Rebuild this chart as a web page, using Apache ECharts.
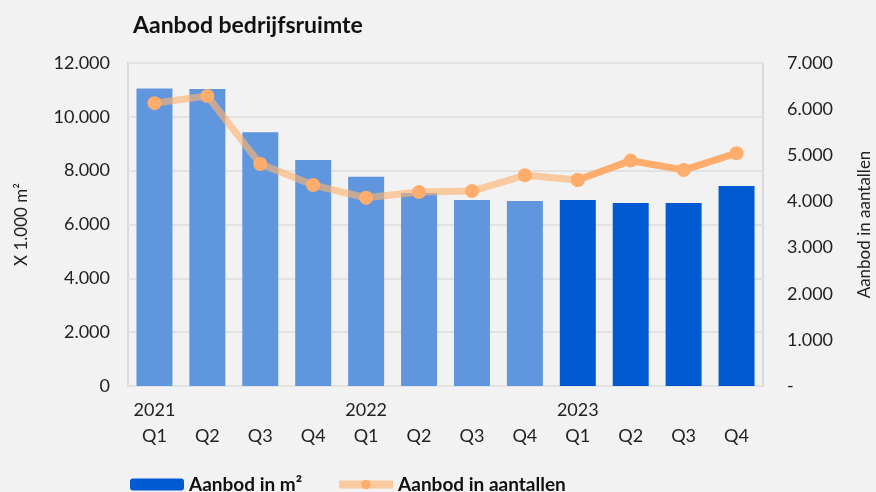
<!DOCTYPE html>
<html>
<head>
    <meta charset="UTF-8">
    <title>Aanbod bedrijfsruimte</title>
    <script src="https://cdn.jsdelivr.net/npm/echarts@6/dist/echarts.min.js"></script>
    <style>
        html, body { margin: 0; padding: 0; background: #f2f2f2; }
    </style>
</head>
<body>
<div id="chart" style="width:876px;height:492px;"></div>
<script type="text/javascript">

    // kwartalen 2021 - 2023
    var years = ['2021', '', '', '', '2022', '', '', '', '2023', '', '', ''];
    var quarters = ['Q1', 'Q2', 'Q3', 'Q4', 'Q1', 'Q2', 'Q3', 'Q4', 'Q1', 'Q2', 'Q3', 'Q4'];

    // X 1.000 m2
    var aanbodM2 = [11050, 11030, 9430, 8400, 7770, 7170, 6910, 6870, 6910, 6800, 6800, 7430];
    // aantallen
    var aanbodAantal = [6130, 6285, 4810, 4355, 4080, 4205, 4225, 4565, 4465, 4885, 4680, 5045];

    var splitAt = 8; // vanaf 2023 donker

    var categories = years.map(function (y, i) {
        return y + '\n' + quarters[i];
    });

    var lightLine = aanbodAantal.map(function (v, i) {
        return i <= splitAt ? v : '-';
    });
    var darkLine = aanbodAantal.map(function (v, i) {
        return i >= splitAt ? v : '-';
    });

    function dots(v) {
        return String(v).replace(/\B(?=(\d{3})+(?!\d))/g, '.');
    }

    var font = 'Lato';
    var myChart = echarts.init(document.getElementById('chart'));

    myChart.setOption({
        backgroundColor: '#f2f2f2',
        animation: false,
        textStyle: {fontFamily: font},
        title: {
            text: 'Aanbod bedrijfsruimte',
            left: 128,
            top: 9,
            textStyle: {fontSize: 23, fontWeight: 'bold', color: '#111', fontFamily: font}
        },
        legend: {
            data: [
                {name: 'Aanbod in m²', itemStyle: {color: '#005bd3'}},
                {
                    name: 'Aanbod in aantallen',
                    lineStyle: {width: 8, color: 'rgba(253,178,113,0.64)'},
                    itemStyle: {color: '#ffad6c'}
                }
            ],
            left: 125,
            top: 470,
            itemWidth: 54,
            itemHeight: 12,
            itemGap: 33,
            textStyle: {fontSize: 19, fontWeight: 'bold', color: '#111', fontFamily: font}
        },
        grid: {
            left: 128,
            right: 113,
            top: 63,
            bottom: 106,
            outerBoundsMode: 'none',
            containLabel: false,
            show: true,
            borderColor: '#dadada',
            borderWidth: 2
        },
        xAxis: {
            type: 'category',
            data: categories,
            axisLine: {show: false},
            axisTick: {show: false},
            axisLabel: {
                interval: 0,
                margin: 11,
                fontSize: 18,
                lineHeight: 26,
                color: '#222'
            }
        },
        yAxis: [
            {
                type: 'value',
                min: 0,
                max: 12000,
                interval: 2000,
                name: 'X 1.000 m²',
                nameLocation: 'middle',
                nameGap: 98,
                nameTextStyle: {fontSize: 17, color: '#222'},
                axisLine: {show: false},
                axisTick: {show: false},
                splitLine: {lineStyle: {color: '#e2e2e2', width: 2}},
                axisLabel: {
                    fontSize: 18,
                    color: '#222',
                    margin: 18,
                    formatter: function (v) { return dots(v); }
                }
            },
            {
                type: 'value',
                min: 0,
                max: 7000,
                interval: 1000,
                name: 'Aanbod in aantallen',
                nameLocation: 'middle',
                nameGap: 93,
                nameTextStyle: {fontSize: 17, color: '#222'},
                axisLine: {show: false},
                axisTick: {show: false},
                splitLine: {show: false},
                axisLabel: {
                    fontSize: 18,
                    color: '#222',
                    margin: 24,
                    formatter: function (v) { return v === 0 ? '-' : dots(v); }
                }
            }
        ],
        series: [
            {
                name: 'Aanbod in m²',
                type: 'bar',
                data: aanbodM2,
                barWidth: '68%',
                itemStyle: {
                    color: function (p) {
                        return p.dataIndex < splitAt ? '#6096de' : '#005bd3';
                    }
                }
            },
            {
                name: 'Aanbod in aantallen',
                type: 'line',
                yAxisIndex: 1,
                data: lightLine,
                symbol: 'circle',
                symbolSize: 14,
                lineStyle: {color: 'rgba(253,178,113,0.64)', width: 7},
                itemStyle: {color: '#ffad6c'},
                z: 3
            },
            {
                name: 'Aanbod in aantallen',
                type: 'line',
                yAxisIndex: 1,
                data: darkLine,
                symbol: 'circle',
                symbolSize: 14,
                lineStyle: {color: '#ffad6c', width: 7},
                itemStyle: {color: '#ffad6c'},
                z: 4
            }
        ]
    });
</script>
</body>
</html>
